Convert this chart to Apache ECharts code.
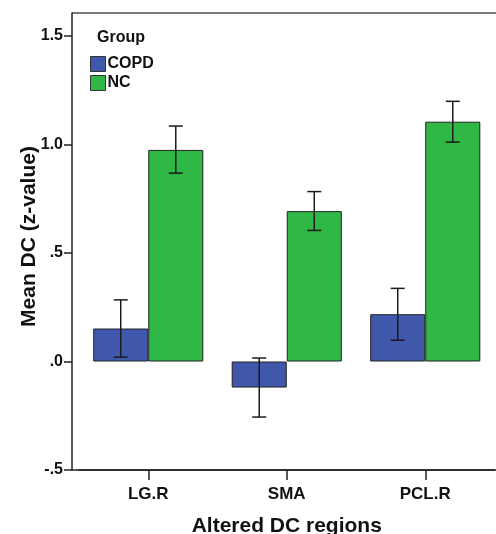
<!DOCTYPE html>
<html><head><meta charset="utf-8">
<script src="https://cdn.jsdelivr.net/npm/echarts@6/dist/echarts.min.js"></script>
<style>html,body{margin:0;padding:0;background:#fff}#c{width:496px;height:534px}</style>
</head><body><div id="c"></div>
<script>
const categories = ['LG.R', 'SMA', 'PCL.R'];
const groups = ['COPD', 'NC'];
const copdMean = [0.152, -0.120, 0.218];
const copdLow  = [0.020, -0.256, 0.098];
const copdHigh = [0.284, 0.016, 0.337];
const ncMean = [0.975, 0.693, 1.105];
const ncLow  = [0.868, 0.604, 1.011];
const ncHigh = [1.085, 0.783, 1.199];
const yTicks = [-0.5, 0, 0.5, 1.0, 1.5];

const FONT = '"Liberation Sans", Arial, sans-serif';
const GL = 79, GT = 13, GW = 415.5, GH = 457;
const CAT_GAP = 0.205;

function errRender(side) {
  return function (params, api) {
    const i = api.value(0);
    const lo = api.coord([i, api.value(1)]);
    const hi = api.coord([i, api.value(2)]);
    const band = api.size([1, 0])[0];
    const x = lo[0] + side * band * (1 - CAT_GAP) / 4;
    const cap = 7;
    const st = { stroke: '#1a1a1a', lineWidth: 1.5 };
    return { type: 'group', children: [
      { type: 'line', shape: { x1: x, y1: lo[1], x2: x, y2: hi[1] }, style: st },
      { type: 'line', shape: { x1: x - cap, y1: lo[1], x2: x + cap, y2: lo[1] }, style: st },
      { type: 'line', shape: { x1: x - cap, y1: hi[1], x2: x + cap, y2: hi[1] }, style: st }
    ]};
  };
}

const chart = echarts.init(document.getElementById('c'), null, { renderer: 'canvas' });
chart.setOption({
  animation: false,
  backgroundColor: '#fff',
  textStyle: { fontFamily: FONT },
  title: { text: 'Group', left: 97, top: 30, padding: 0,
    textStyle: { fontFamily: FONT, fontSize: 16, fontWeight: 'bold', color: '#111' } },
  legend: {
    data: groups, orient: 'vertical', left: 90, top: 56, padding: 0, icon: 'rect',
    itemWidth: 15, itemHeight: 15, itemGap: 3,
    textStyle: { fontFamily: FONT, fontSize: 16, fontWeight: 'bold', color: '#111', padding: [0, 0, 0, -3] },
    itemStyle: { borderColor: '#333', borderWidth: 1 }
  },
  grid: { left: GL, top: GT, width: GW, height: GH, containLabel: false, outerBoundsMode: 'none' },
  xAxis: {
    type: 'category', data: categories,
    axisLine: { onZero: false, lineStyle: { color: '#222', width: 1.5 } },
    axisTick: { show: true, alignWithLabel: true, length: 10, lineStyle: { color: '#222', width: 1.5 } },
    axisLabel: { margin: 16, fontFamily: FONT, fontSize: 17, fontWeight: 'bold', color: '#111' },
    name: 'Altered DC regions', nameLocation: 'middle', nameGap: 46, nameMoveOverlap: false,
    nameTextStyle: { fontFamily: FONT, fontSize: 21, fontWeight: 'bold', color: '#111' }
  },
  yAxis: {
    type: 'value', min: -0.5, max: 1.606, interval: 0.5, offset: 7,
    axisLine: { show: true, lineStyle: { color: '#222', width: 1.5 } },
    axisTick: { show: true, length: 8, lineStyle: { color: '#222', width: 1.5 },
      customValues: yTicks },
    splitLine: { show: false },
    axisLabel: { margin: 9, fontFamily: FONT, fontSize: 16, fontWeight: 'bold', color: '#111',
      customValues: yTicks,
      formatter: v => { let s = Math.abs(v).toFixed(1).replace(/^0\./, '.'); return (v < 0 ? '-' : '') + s; } },
    name: 'Mean DC (z-value)', nameLocation: 'middle', nameGap: 32, nameMoveOverlap: false,
    nameTextStyle: { fontFamily: FONT, fontSize: 21, fontWeight: 'bold', color: '#111', padding: [0, 0, 0, 10] }
  },
  series: [
    { name: 'COPD', type: 'bar', data: copdMean, barGap: '0%', barCategoryGap: (CAT_GAP * 100) + '%',
      itemStyle: { color: '#3f58ab', borderColor: '#222', borderWidth: 1 } },
    { name: 'NC', type: 'bar', data: ncMean, barGap: '0%', barCategoryGap: (CAT_GAP * 100) + '%',
      itemStyle: { color: '#30b846', borderColor: '#222', borderWidth: 1 } },
    { type: 'custom', renderItem: errRender(-1), z: 10, silent: true,
      data: categories.map((c, i) => [i, copdLow[i], copdHigh[i]]), encode: { x: 0, y: [1, 2] } },
    { type: 'custom', renderItem: errRender(1), z: 10, silent: true,
      data: categories.map((c, i) => [i, ncLow[i], ncHigh[i]]), encode: { x: 0, y: [1, 2] } }
  ],
  graphic: [
    { type: 'line', shape: { x1: GL - 7, y1: GT, x2: 496, y2: GT }, style: { stroke: '#7a7a7a', lineWidth: 2 } },
    { type: 'line', shape: { x1: GL - 7, y1: GT + GH, x2: 496, y2: GT + GH }, style: { stroke: '#222', lineWidth: 1.5 } }
  ]
});
</script></body></html>
